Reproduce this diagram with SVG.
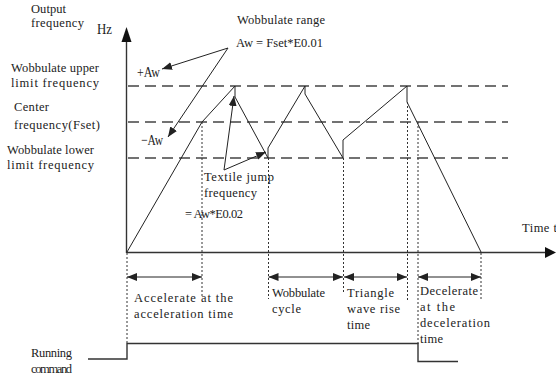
<svg xmlns="http://www.w3.org/2000/svg" width="556" height="375" viewBox="0 0 556 375">
<style>
.t{font-family:"Liberation Serif",serif;font-size:12.5px;fill:#222}
.big{font-family:"Liberation Serif",serif;font-size:15px;fill:#222}
.ln{stroke:#222;stroke-width:1;fill:none}
.ax{stroke:#333;stroke-width:1.4;fill:none}
.dash{stroke:#444;stroke-width:1.3;stroke-dasharray:11 6;fill:none}
.dot{stroke:#333;stroke-width:1;stroke-dasharray:2 2;fill:none}
</style>
<defs>
<marker id="ah" viewBox="0 0 10 8" refX="10" refY="4" markerWidth="10" markerHeight="8" markerUnits="userSpaceOnUse" orient="auto-start-reverse">
<path d="M0,0 L10,4 L0,8 z" fill="#222"/>
</marker>
</defs>
<rect width="556" height="375" fill="#fff"/>
<g id="axes">
<line class="ax" x1="126.5" y1="253" x2="126.5" y2="40"/>
<path d="M126.5,27 L121.5,42 L131.5,42 z" fill="#111"/>
<line class="ax" x1="126.5" y1="252.5" x2="546" y2="252.5"/>
<path d="M556,252.5 L545,247 L545,258 z" fill="#111"/>
<text class="big" x="97" y="34" textLength="15" lengthAdjust="spacingAndGlyphs">Hz</text>
</g>
<g id="levels">
<line class="dash" x1="128" y1="86" x2="508" y2="86"/>
<line class="dash" x1="128" y1="122" x2="508" y2="122"/>
<line class="dash" x1="128" y1="158" x2="508" y2="158"/>
</g>
<g id="waveform">
<polyline class="ln" points="127,252 202,122 235,86 235,97 268,158 268,148 305,86 305,94 343,158 343,140 407,86 407,102 481,252"/>
</g>
<g id="guides">
<line class="dot" x1="127" y1="253" x2="127" y2="344"/>
<line class="dot" x1="202" y1="122" x2="202" y2="298"/>
<line class="dot" x1="268.5" y1="158" x2="268.5" y2="299"/>
<line class="dot" x1="343.5" y1="158" x2="343.5" y2="293"/>
<line class="dot" x1="407.5" y1="102" x2="407.5" y2="300"/>
<line class="dot" x1="418" y1="122" x2="418" y2="345"/>
<line class="dot" x1="481" y1="253" x2="481" y2="300"/>
</g>
<g id="connectors">
<line class="ln" x1="228" y1="48" x2="162" y2="69" marker-end="url(#ah)"/>
<line class="ln" x1="228" y1="48" x2="168" y2="137" marker-end="url(#ah)"/>
<line class="ln" x1="224" y1="170" x2="234" y2="96" marker-end="url(#ah)"/>
<line class="ln" x1="224" y1="170" x2="266" y2="152" marker-end="url(#ah)"/>
<line class="ln" x1="127" y1="277" x2="202" y2="277" marker-start="url(#ah)" marker-end="url(#ah)"/>
<line class="ln" x1="268.5" y1="277" x2="343" y2="277" marker-start="url(#ah)" marker-end="url(#ah)"/>
<line class="ln" x1="344" y1="277" x2="407" y2="277" marker-start="url(#ah)" marker-end="url(#ah)"/>
<line class="ln" x1="418" y1="277" x2="481" y2="277" marker-start="url(#ah)" marker-end="url(#ah)"/>
</g>
<g id="running-signal">
<polyline class="ax" points="88,359 127,359 127,343.5 418,343.5 418,361.5 458,361.5"/>
</g>
<g id="labels">
<text class="t" x="31" y="13" textLength="35">Output</text>
<text class="t" x="31" y="27" textLength="53">frequency</text>
<text class="t" x="11" y="72" textLength="88">Wobbulate upper</text>
<text class="t" x="11" y="87" textLength="88">limit frequency</text>
<text class="t" x="14" y="111" textLength="35">Center</text>
<text class="t" x="14" y="129" textLength="86">frequency(Fset)</text>
<text class="t" x="7" y="154" textLength="87">Wobbulate lower</text>
<text class="t" x="7" y="169" textLength="87">limit frequency</text>
<text class="t" x="237" y="24" textLength="88">Wobbulate range</text>
<text class="t" x="236" y="47" textLength="87">Aw = Fset*E0.01</text>
<text class="big" x="137" y="77" textLength="23" lengthAdjust="spacingAndGlyphs">+Aw</text>
<text class="big" x="141" y="145" textLength="22" lengthAdjust="spacingAndGlyphs">−Aw</text>
<text class="t" x="204" y="181" textLength="70">Textile jump</text>
<text class="t" x="204" y="197" textLength="53">frequency</text>
<text class="t" x="185" y="218" textLength="58">= Aw*E0.02</text>
<text class="t" x="522" y="232" textLength="35">Time t</text>
<text class="t" x="134" y="302" textLength="99">Accelerate at the</text>
<text class="t" x="134" y="318" textLength="99">acceleration time</text>
<text class="t" x="272" y="297" textLength="53">Wobbulate</text>
<text class="t" x="272" y="313" textLength="29">cycle</text>
<text class="t" x="347" y="297" textLength="47">Triangle</text>
<text class="t" x="347" y="313" textLength="53">wave rise</text>
<text class="t" x="347" y="329" textLength="23">time</text>
<text class="t" x="420" y="295" textLength="58">Decelerate</text>
<text class="t" x="420" y="311" textLength="35">at the</text>
<text class="t" x="420" y="327" textLength="70">deceleration</text>
<text class="t" x="420" y="343" textLength="23">time</text>
<text class="t" x="31" y="357" textLength="41">Running</text>
<text class="t" x="31" y="373" textLength="41">command</text>
</g>
</svg>
